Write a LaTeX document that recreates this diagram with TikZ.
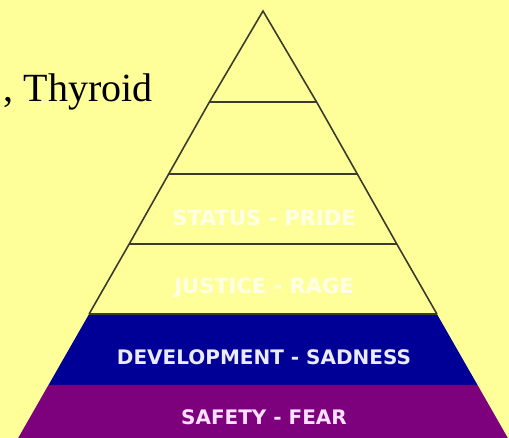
\documentclass[tikz,border=0pt]{standalone}
\usepackage{fontspec}
\setmainfont{Liberation Serif}
\newfontfamily\tierfont{DejaVu Sans}
\definecolor{bgyellow}{RGB}{255,255,153}
\definecolor{tierblue}{RGB}{0,0,150}
\definecolor{tierpurple}{RGB}{125,0,125}
\definecolor{edgegray}{RGB}{60,60,45}
\definecolor{fadedtext}{RGB}{255,255,232}
\definecolor{bluetext}{RGB}{235,235,255}
\definecolor{purpletext}{RGB}{255,225,255}
\tikzset{
  edgeline/.style={draw=edgegray, line width=1.6pt, line join=miter},
  tierlabel/.style={font=\tierfont\bfseries\fontsize{20}{22}\selectfont, inner sep=0pt, anchor=center},
  fadedlabel/.style={tierlabel, font=\tierfont\bfseries\fontsize{21}{23}\selectfont, text=fadedtext},
}
\begin{document}
\begin{tikzpicture}[x=1pt,y=-1pt]
\fill[bgyellow] (0,0) rectangle (509,438);
\useasboundingbox (0,0) rectangle (509,438);
% pyramid corner points
\coordinate (apex) at (263,11);
\coordinate (l1) at (209.4,102); \coordinate (r1) at (316.6,102);
\coordinate (l2) at (168.7,174); \coordinate (r2) at (357.3,174);
\coordinate (l3) at (129.2,244); \coordinate (r3) at (396.8,244);
\coordinate (l4) at (89.1,314);  \coordinate (r4) at (436.9,314);
\coordinate (l5) at (48.5,385);  \coordinate (r5) at (477.5,385);
\coordinate (l6) at (18.2,438);  \coordinate (r6) at (507.8,438);
% coloured tiers
\fill[tierblue] (l4) -- (r4) -- (r5) -- (l5) -- cycle;
\fill[tierpurple] (l5) -- (r5) -- (r6) -- (l6) -- cycle;
% outline and dividing lines
\draw[edgeline] (l4) -- (l3) -- (l2) -- (l1) -- (apex) -- (r1) -- (r2) -- (r3) -- (r4);
\draw[edgeline] (l1) -- (r1);
\draw[edgeline] (l2) -- (r2);
\draw[edgeline] (l3) -- (r3);
\draw[edgeline, line width=1.2pt] (l4) -- (r4);
% labels
\node[fadedlabel] (status) at (264,218) {STATUS - PRIDE};
\node[fadedlabel] (justice) at (264,288) {JUSTICE - RAGE};
\node[tierlabel, text=bluetext] (development) at (264,357) {DEVELOPMENT - SADNESS};
\node[tierlabel, text=purpletext] (safety) at (264,417) {SAFETY - FEAR};
% cut-off text at top left
\node[font=\fontsize{40}{44}\selectfont, anchor=base east, inner sep=0pt] (thyroid) at (153,102) {, Thyroid};
\end{tikzpicture}
\end{document}
